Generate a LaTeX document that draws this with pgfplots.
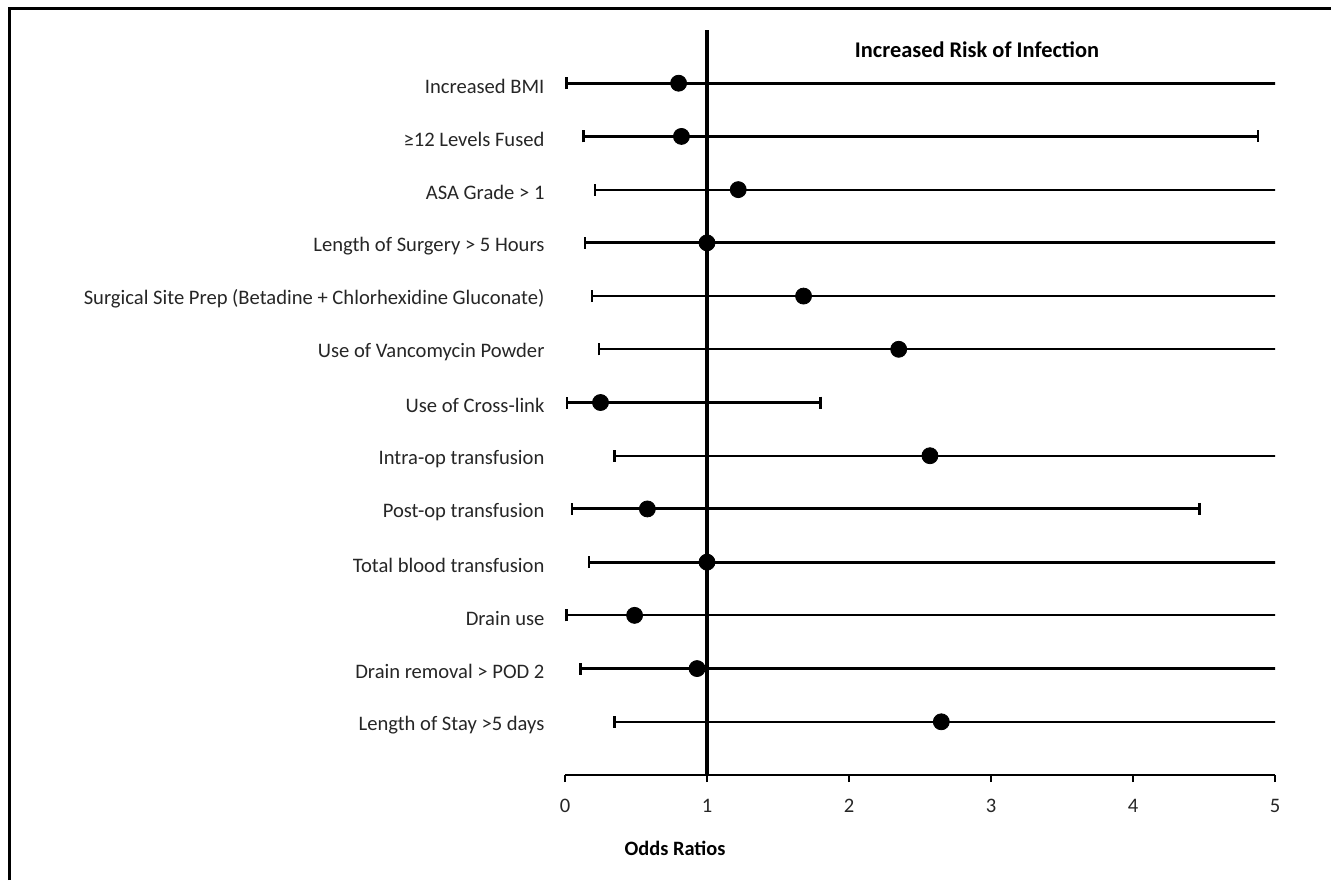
\documentclass[border=0pt]{standalone}
\usepackage{fontspec}
\setmainfont{Carlito}
\usepackage{pgfplots}
\usepackage{pgfplotstable}
\pgfplotsset{compat=1.18}
\pgfplotstableread{
x    y  lo    hi
0.80 13 0.01  6
0.82 12 0.13  4.88
1.00 10 0.14  6
0.25 7  0.015 1.80
0.58 5  0.05  4.47
1.00 4  0.17  6
0.93 2  0.11  6
}\thicktab
\pgfplotstableread{
x    y  lo    hi
1.22 11 0.21  6
1.68 9  0.19  6
2.35 8  0.24  6
2.57 6  0.35  6
0.49 3  0.01  6
2.65 1  0.35  6
}\thintab
\begin{document}
\begin{tikzpicture}
\useasboundingbox (0,0) rectangle (665.5pt,440pt);
\draw[line width=1.5pt] (4.5pt,0) -- (4.5pt,435.5pt) -- (665.5pt,435.5pt);
\begin{axis}[
  at={(282.5pt,52.5pt)}, anchor=south west,
  scale only axis, width=355pt, height=372.5pt,
  xmin=0, xmax=5, ymin=0, ymax=14,
  axis x line=bottom, axis y line=left,
  axis line style={-},
  x axis line style={line width=1.3pt},
  y axis line style={draw=none},
  xtick={0,1,2,3,4,5},
  ytick={1,...,13},
  yticklabels={Length of Stay >5 days, Drain removal > POD 2, Drain use, Total blood transfusion, Post-op transfusion, Intra-op transfusion, Use of Cross-link, Use of Vancomycin Powder, Surgical Site Prep (Betadine + Chlorhexidine Gluconate), Length of Surgery > 5 Hours, ASA Grade > 1, ≥12 Levels Fused, Increased BMI},
  ytick style={draw=none},
  xtick style={line width=1pt, black},
  xtick align=outside,
  major tick length=3.5pt,
  tick label style={font=\fontsize{10.3}{12}\selectfont, text=black!85},
  /pgf/number format/assume math mode=true,
  xticklabel style={yshift=-5pt},
  yticklabel style={xshift=-5pt, yshift=-1.5pt},
  clip=true,
]
\addplot[line width=2.4pt, black] coordinates {(1,0) (1,14)};
\addplot[only marks, mark=*, mark size=4pt, black,
  error bars/.cd, x dir=both, x explicit, error mark=|,
  error bar style={line width=1.5pt, black},
  error mark options={line width=1.3pt, mark size=3pt, black}]
  table[x=x, y=y, x error plus expr=\thisrow{hi}-\thisrow{x}, x error minus expr=\thisrow{x}-\thisrow{lo}] {\thicktab};
\addplot[only marks, mark=*, mark size=4pt, black,
  error bars/.cd, x dir=both, x explicit, error mark=|,
  error bar style={line width=1pt, black},
  error mark options={line width=1.3pt, mark size=3pt, black}]
  table[x=x, y=y, x error plus expr=\thisrow{hi}-\thisrow{x}, x error minus expr=\thisrow{x}-\thisrow{lo}] {\thintab};
\end{axis}
\node[font=\fontsize{10.2}{12}\selectfont\bfseries] at (337.5pt,16pt) {Odds Ratios};
\node[font=\fontsize{11.2}{13}\selectfont\bfseries] at (488.5pt,415pt) {Increased Risk of Infection};
\end{tikzpicture}
\end{document}
